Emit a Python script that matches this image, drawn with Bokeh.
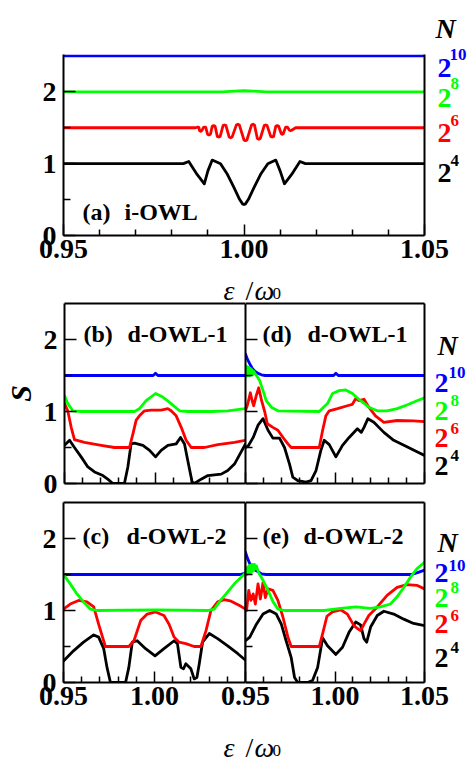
from bokeh.plotting import figure
from bokeh.models import Range1d, LinearAxis, FixedTicker, Label
from bokeh.layouts import column, row
from bokeh.embed import file_html
from bokeh.resources import INLINE

FONT = "Liberation Serif"
COLORS = {"n4": "#000000", "n6": "#ff0000", "n8": "#00ff00", "n10": "#0000ff"}
ORDER = ["n4", "n6", "n10", "n8"]
EXPONENTS = {"n4": "4", "n6": "6", "n8": "8", "n10": "10"}

X_MAJOR = [0.95, 1.00, 1.05]
X_MINOR = [0.96, 0.97, 0.98, 0.99, 1.01, 1.02, 1.03, 1.04]
S_MAJOR = [0, 1, 2]
S_MINOR = [0.5, 1.5]

# ---------------- (a) i-OWL  (curves stacked by 0.5) ----------------
a_n4_x = [0.9500, 0.9832, 0.9847, 0.9870, 0.9890, 0.9900, 0.9912, 0.9935, 0.9953, 0.9972, 0.9988, 0.9996,
          1.0000, 1.0004, 1.0012, 1.0028, 1.0047, 1.0066, 1.0088, 1.0100, 1.0112, 1.0132, 1.0155, 1.0170,
          1.0500]
a_n4_s = [1.00, 1.00, 1.03, 0.85, 0.72, 0.90, 1.05, 1.00, 0.86, 0.67, 0.50, 0.44,
          0.43, 0.44, 0.50, 0.67, 0.86, 1.00, 1.05, 0.90, 0.72, 0.85, 1.03, 1.00,
          1.00]
a_n6_x = [0.9500, 0.9864, 0.9869, 0.9872, 0.9875, 0.9877, 0.9880, 0.9883, 0.9888, 0.9891, 0.9894,
          0.9899, 0.9903, 0.9907, 0.9912, 0.9916, 0.9920, 0.9926, 0.9930, 0.9934, 0.9942, 0.9946, 0.9950,
          0.9959, 0.9963, 0.9967, 0.9979, 0.9983, 0.9987, 1.0000, 1.0004, 1.0008, 1.0021, 1.0025, 1.0029,
          1.0037, 1.0041, 1.0045, 1.0056, 1.0060, 1.0064, 1.0074, 1.0078, 1.0082, 1.0088, 1.0092, 1.0096,
          1.0103, 1.0106, 1.0109, 1.0115, 1.0118, 1.0121, 1.0126, 1.0129, 1.0132, 1.0143, 1.0500]
a_n6_s = [1.50, 1.50, 1.505, 1.51, 1.505, 1.46, 1.45, 1.46, 1.505, 1.51, 1.505,
          1.41, 1.40, 1.41, 1.52, 1.53, 1.52, 1.38, 1.37, 1.38, 1.53, 1.54, 1.53,
          1.37, 1.36, 1.37, 1.54, 1.55, 1.54, 1.33, 1.32, 1.33, 1.54, 1.55, 1.54,
          1.35, 1.34, 1.35, 1.53, 1.54, 1.53, 1.38, 1.37, 1.38, 1.52, 1.53, 1.52,
          1.42, 1.41, 1.42, 1.505, 1.51, 1.505, 1.465, 1.46, 1.465, 1.50, 1.50]
a_n8_x = [0.9500, 0.9940, 0.9975, 1.0000, 1.0025, 1.0060, 1.0500]
a_n8_s = [2.00, 2.00, 2.01, 2.015, 2.01, 2.00, 2.00]
a_n10_x = [0.9500, 1.0500]
a_n10_s = [2.50, 2.50]

# ---------------- (b) d-OWL-1 ----------------
b_n4_x = [0.9500, 0.9528, 0.9555, 0.9592, 0.9629, 0.9666, 0.9712, 0.9739, 0.9767, 0.9831, 0.9850, 0.9868,
          0.9887, 0.9933, 0.9970, 1.0003, 1.0034, 1.0071, 1.0117, 1.0141, 1.0163, 1.0181, 1.0205, 1.0218,
          1.0255, 1.0292, 1.0366, 1.0402, 1.0439, 1.0476, 1.0500]
b_n4_s = [0.53, 0.60, 0.50, 0.37, 0.23, 0.16, 0.11, 0.06, 0.00, 0.00, 0.23, 0.55,
          0.56, 0.53, 0.46, 0.37, 0.46, 0.53, 0.55, 0.64, 0.55, 0.32, 0.02, 0.00,
          0.06, 0.11, 0.13, 0.18, 0.27, 0.44, 0.55]
b_n6_x = [0.9500, 0.9518, 0.9537, 0.9555, 0.9610, 0.9703, 0.9776, 0.9859, 0.9878, 0.9896, 0.9914, 0.9942,
          0.9979, 1.0034, 1.0071, 1.0089, 1.0117, 1.0145, 1.0172, 1.0200, 1.0273, 1.0347, 1.0439, 1.0500]
b_n6_s = [1.11, 1.01, 0.78, 0.61, 0.57, 0.53, 0.50, 0.50, 0.69, 0.88, 0.94, 1.01,
          1.02, 1.02, 1.04, 1.01, 0.94, 0.78, 0.60, 0.50, 0.50, 0.54, 0.57, 0.60]
b_n8_x = [0.9500, 0.9518, 0.9546, 0.9592, 0.9887, 0.9914, 0.9951, 1.0003, 1.0043, 1.0089, 1.0135, 1.0181,
          1.0310, 1.0402, 1.0500]
b_n8_s = [1.22, 1.11, 1.01, 1.00, 1.00, 1.04, 1.15, 1.25, 1.20, 1.11, 1.01, 1.00,
          1.00, 1.01, 1.04]
b_n10_x = [0.9500, 0.9990, 1.0003, 1.0016, 1.0500]
b_n10_s = [1.50, 1.50, 1.53, 1.50, 1.50]

# ---------------- (d) d-OWL-1 ----------------
d_n4_x = [0.9500, 0.9515, 0.9543, 0.9570, 0.9598, 0.9626, 0.9653, 0.9690, 0.9718, 0.9746, 0.9764, 0.9792,
          0.9838, 0.9866, 0.9894, 0.9921, 0.9940, 0.9968, 1.0005, 1.0042, 1.0079, 1.0125, 1.0147, 1.0162,
          1.0184, 1.0217, 1.0273, 1.0328, 1.0402, 1.0458, 1.0500]
d_n4_s = [0.50, 0.52, 0.64, 0.81, 0.90, 0.74, 0.63, 0.63, 0.50, 0.27, 0.09, 0.04,
          0.02, 0.04, 0.18, 0.46, 0.60, 0.54, 0.37, 0.53, 0.64, 0.76, 0.71, 0.78,
          0.90, 0.85, 0.71, 0.60, 0.51, 0.44, 0.39]
d_n6_x = [0.9500, 0.9512, 0.9527, 0.9537, 0.9546, 0.9560, 0.9574, 0.9590, 0.9607, 0.9622, 0.9653, 0.9681,
          0.9709, 0.9737, 0.9755, 0.9912, 0.9931, 0.9949, 0.9968, 1.0014, 1.0069, 1.0097, 1.0116, 1.0134,
          1.0162, 1.0189, 1.0226, 1.0273, 1.0347, 1.0439, 1.0500]
d_n6_s = [1.01, 1.10, 1.26, 1.15, 1.08, 1.22, 1.33, 1.15, 1.00, 0.83, 0.78, 0.74,
          0.64, 0.55, 0.50, 0.50, 0.74, 0.94, 1.01, 1.04, 1.08, 1.10, 1.18, 1.15,
          1.17, 1.06, 0.94, 0.85, 0.875, 0.87, 0.86]
d_n8_x = [0.9500, 0.9503, 0.9507, 0.9511, 0.9515, 0.9519, 0.9523, 0.9527, 0.9531, 0.9535, 0.9540, 0.9545,
          0.9552, 0.9561, 0.9579, 0.9598, 0.9616, 0.9644, 0.9681, 0.9912, 0.9958, 0.9986, 1.0023, 1.0060,
          1.0097, 1.0143, 1.0189, 1.0236, 1.0291, 1.0347, 1.0402, 1.0458, 1.0500]
d_n8_s = [1.50, 1.63, 1.49, 1.62, 1.50, 1.61, 1.50, 1.60, 1.51, 1.58, 1.51, 1.56,
          1.53, 1.50, 1.43, 1.29, 1.15, 1.06, 1.01, 1.00, 1.11, 1.25, 1.29, 1.30,
          1.25, 1.15, 1.06, 1.01, 1.01, 1.04, 1.09, 1.15, 1.19]
d_n10_x = [0.9500, 0.9512, 0.9524, 0.9538, 0.9552, 0.9570, 0.9589, 0.9610, 0.9992, 1.0005, 1.0018, 1.0500]
d_n10_s = [1.80, 1.72, 1.66, 1.60, 1.56, 1.53, 1.51, 1.50, 1.50, 1.53, 1.50, 1.50]

# ---------------- (c) d-OWL-2 ----------------
c_n4_x = [0.9500, 0.9555, 0.9610, 0.9666, 0.9693, 0.9721, 0.9739, 0.9758, 0.9841, 0.9859, 0.9878, 0.9905,
          0.9951, 1.0003, 1.0052, 1.0108, 1.0126, 1.0145, 1.0159, 1.0172, 1.0200, 1.0218, 1.0233, 1.0246,
          1.0264, 1.0301, 1.0347, 1.0402, 1.0458, 1.0500]
c_n4_s = [0.30, 0.44, 0.56, 0.66, 0.63, 0.47, 0.21, 0.00, 0.00, 0.21, 0.56, 0.58,
          0.47, 0.37, 0.47, 0.58, 0.54, 0.21, 0.19, 0.26, 0.19, 0.05, 0.07, 0.26,
          0.56, 0.68, 0.61, 0.51, 0.40, 0.31]
c_n6_x = [0.9500, 0.9537, 0.9583, 0.9629, 0.9666, 0.9693, 0.9730, 0.9859, 0.9887, 0.9924, 0.9960, 1.0006,
          1.0052, 1.0080, 1.0108, 1.0135, 1.0172, 1.0218, 1.0255, 1.0283, 1.0310, 1.0347, 1.0384, 1.0421,
          1.0467, 1.0500]
c_n6_s = [1.02, 1.09, 1.14, 1.12, 1.05, 0.81, 0.50, 0.50, 0.58, 0.86, 0.95, 0.98,
          0.93, 0.81, 0.63, 0.56, 0.54, 0.50, 0.50, 0.72, 1.00, 1.12, 1.15, 1.13,
          1.07, 1.02]
c_n8_x = [0.9500, 0.9537, 0.9574, 0.9610, 0.9647, 0.9684, 1.0006, 1.0292, 1.0329, 1.0356, 1.0393, 1.0439, 1.0500]
c_n8_s = [1.50, 1.37, 1.23, 1.12, 1.02, 1.00, 1.01, 1.00, 1.02, 1.12, 1.23, 1.37, 1.52]
c_n10_x = [0.9500, 1.0470, 1.0500]
c_n10_s = [1.50, 1.50, 1.52]

# ---------------- (e) d-OWL-2 ----------------
e_n4_x = [0.9500, 0.9524, 0.9561, 0.9598, 0.9635, 0.9672, 0.9700, 0.9727, 0.9755, 0.9774, 0.9792, 0.9848,
          0.9875, 0.9903, 0.9931, 0.9958, 1.0005, 1.0042, 1.0079, 1.0116, 1.0143, 1.0162, 1.0177, 1.0199,
          1.0236, 1.0273, 1.0328, 1.0384, 1.0439, 1.0500]
e_n4_s = [0.58, 0.63, 0.81, 0.95, 1.00, 0.95, 0.81, 0.58, 0.35, 0.07, 0.00, 0.00,
          0.03, 0.21, 0.62, 0.51, 0.39, 0.49, 0.70, 0.84, 0.80, 0.61, 0.56, 0.77,
          0.93, 0.99, 0.95, 0.88, 0.82, 0.79]
e_n6_x = [0.9500, 0.9506, 0.9518, 0.9530, 0.9543, 0.9555, 0.9570, 0.9583, 0.9598, 0.9611, 0.9626, 0.9653,
          0.9681, 0.9709, 0.9737, 0.9755, 0.9912, 0.9931, 0.9955, 0.9986, 1.0032, 1.0069, 1.0106, 1.0125,
          1.0143, 1.0162, 1.0189, 1.0236, 1.0291, 1.0347, 1.0402, 1.0457, 1.0500]
e_n6_s = [1.05, 1.00, 1.28, 1.14, 1.23, 1.09, 1.37, 1.16, 1.39, 1.18, 1.30, 1.28,
          1.14, 0.91, 0.63, 0.50, 0.50, 0.68, 0.92, 0.98, 1.01, 0.95, 0.79, 0.75,
          0.72, 0.81, 0.93, 1.05, 1.21, 1.32, 1.36, 1.35, 1.30]
e_n8_x = [0.9500, 0.9503, 0.9507, 0.9511, 0.9515, 0.9519, 0.9524, 0.9528, 0.9533, 0.9538, 0.9544, 0.9550,
          0.9555, 0.9561, 0.9572, 0.9598, 0.9626, 0.9654, 0.9681, 0.9718, 0.9940, 1.0032, 1.0116, 1.0199,
          1.0254, 1.0310, 1.0347, 1.0384, 1.0421, 1.0457, 1.0500]
e_n8_s = [1.50, 1.58, 1.50, 1.60, 1.51, 1.62, 1.52, 1.63, 1.53, 1.64, 1.55, 1.64,
          1.58, 1.62, 1.53, 1.42, 1.28, 1.12, 1.02, 1.00, 1.00, 1.03, 1.05, 1.03,
          1.05, 1.09, 1.19, 1.32, 1.46, 1.58, 1.67]
e_n10_x = [0.9500, 0.9512, 0.9524, 0.9542, 0.9561, 0.9589, 0.9615, 1.0430, 1.0465, 1.0500]
e_n10_s = [1.81, 1.72, 1.65, 1.59, 1.55, 1.51, 1.50, 1.50, 1.53, 1.56]

X_LABELS = {0.95: "0.95", 1.0: "1.00", 1.05: "1.05"}
S_LABELS = {0: "0", 1: "1", 2: "2"}


def panel(width, height, left, right, top, bottom, s_top=2.5):
    p = figure(width=width, height=height,
               x_range=Range1d(0.95, 1.05), y_range=Range1d(0, s_top),
               x_axis_type=None, y_axis_type=None,
               output_backend="svg", toolbar_location=None,
               min_border_left=left, min_border_right=right,
               min_border_top=top, min_border_bottom=bottom)
    p.outline_line_color = None
    p.background_fill_color = "white"
    p.border_fill_color = "white"
    return p


def text_box(width, height, top=0, bottom=0, clear=False):
    # a drawing area for texts that sit outside the plot frames
    p = figure(width=width, height=height, x_range=Range1d(0, width),
               y_range=Range1d(0, height - top - bottom),
               x_axis_type=None, y_axis_type=None, output_backend="svg", toolbar_location=None,
               min_border_left=0, min_border_right=0, min_border_top=top, min_border_bottom=bottom)
    p.outline_line_color = None
    if clear:
        p.background_fill_color = None
        p.border_fill_color = None
    else:
        p.background_fill_color = "white"
        p.border_fill_color = "white"
    return p


def add_axis(p, side, ticks=True, labels=None, major=None):
    horiz = side in ("below", "above")
    if major is None:
        major = X_MAJOR if horiz else S_MAJOR
    ticker = FixedTicker(ticks=major, minor_ticks=X_MINOR if horiz else S_MINOR)
    ax = LinearAxis(ticker=ticker)
    ax.axis_line_width = 2
    ax.axis_line_color = "black"
    ax.major_tick_out = 0
    ax.minor_tick_out = 0
    if ticks:
        ax.major_tick_in = 11 if horiz else 12
        ax.minor_tick_in = 6 if horiz else 7
        ax.major_tick_line_width = 1.5
        ax.minor_tick_line_width = 1.5
        ax.major_tick_line_color = "black"
        ax.minor_tick_line_color = "black"
    else:
        ax.major_tick_in = 0
        ax.minor_tick_in = 0
        ax.major_tick_line_color = None
        ax.minor_tick_line_color = None
    if labels:
        overrides = {}
        for k, v in labels.items():
            overrides[k] = v
            overrides[repr(k)] = v
        ax.major_label_overrides = overrides
        ax.major_label_text_font = FONT
        ax.major_label_text_font_style = "bold"
        ax.major_label_text_font_size = "28px"
        ax.major_label_text_color = "black"
        ax.major_label_standoff = 4 if horiz else 7
    else:
        ax.major_label_text_color = None
        ax.major_label_text_font_size = "0px"
        ax.major_label_standoff = 0
    p.add_layout(ax, side)
    return ax


def draw(p, series):
    for key in ORDER:
        xs, ss = series[key]
        p.line(xs, ss, line_color=COLORS[key], line_width=2.8,
               line_join="round", line_cap="round")


def text(p, x, y, dx, dy, s, size, style="bold", color="black", align="left"):
    p.add_layout(Label(x=x, y=y, x_offset=dx, y_offset=dy, text=s,
                       text_font=FONT, text_font_style=style, text_font_size=size,
                       text_color=color, text_align=align, text_baseline="alphabetic"))


def panel_title(p, tag, name, dx_tag, dx_name, dy):
    text(p, 0.95, 0, dx_tag, dy, tag, "24px")
    text(p, 0.95, 0, dx_name, dy, name, "24px")


def size_key(height, top, bottom, place):
    # "N" header and the 2^k entries; laid over the right border of a row
    k = text_box(45, height, top=top, bottom=bottom, clear=True)
    k.styles = {"margin-left": "-45px"}
    nx, ny = place["N"]
    text(k, nx, ny, 0, 0, "N", "28px", style="bold italic")
    for key in ["n10", "n8", "n6", "n4"]:
        bx, by, ex, ey = place[key]
        text(k, bx, by, 0, 0, "2", "28px", color=COLORS[key])
        text(k, ex, ey, 0, 0, EXPONENTS[key], "17px", color=COLORS[key])
    return k


def x_title(height, baseline, lift):
    # shared x-axis title, pulled up over the tick-label border above it
    t = text_box(469, height, clear=True)
    t.styles = {"margin-top": "-%dpx" % lift}
    text(t, 244, baseline, -21, 0, "\u03b5", "28px", style="italic")
    text(t, 244, baseline, 1, 0, "/", "28px", style="normal")
    text(t, 244, baseline, 10, 0, "\u03c9", "28px", style="italic")
    text(t, 244, baseline, 28, -3, "0", "17px", style="normal")
    return t


# ---- panel (a) ----
spacer_a = text_box(469, 52)
fa = panel(469, 219, 63, 45, 2, 36, s_top=2.52)
draw(fa, {"n4": (a_n4_x, a_n4_s), "n6": (a_n6_x, a_n6_s),
          "n8": (a_n8_x, a_n8_s), "n10": (a_n10_x, a_n10_s)})
add_axis(fa, "left", labels=S_LABELS)
add_axis(fa, "right", ticks=False)
add_axis(fa, "below", labels=X_LABELS)
panel_title(fa, "(a)", "i-OWL", 19, 61, 24)
key_a = size_key(271, 0, 36, {"N": (11, 207), "n10": (13, 168, 25, 181), "n8": (13, 138, 26, 152),
                              "n6": (13, 103, 26, 115), "n4": (13, 63, 26, 75)})
title_a = x_title(45, 10, 16)

# ---- panel (b) ----
fb = panel(245, 195, 63, 0, 3, 12)
draw(fb, {"n4": (b_n4_x, b_n4_s), "n6": (b_n6_x, b_n6_s),
          "n8": (b_n8_x, b_n8_s), "n10": (b_n10_x, b_n10_s)})
yax_b = add_axis(fb, "left", labels=S_LABELS)
yax_b.axis_label = "S"
yax_b.axis_label_text_font = FONT
yax_b.axis_label_text_font_style = "bold italic"
yax_b.axis_label_text_font_size = "30px"
yax_b.axis_label_text_color = "black"
yax_b.axis_label_standoff = 4
add_axis(fb, "right", ticks=False)
add_axis(fb, "above", ticks=False)
add_axis(fb, "below")
panel_title(fb, "(b)", "d-OWL-1", 19, 63, 150)

# ---- panel (d) ----
fd = panel(224, 195, 0, 45, 3, 12)
draw(fd, {"n4": (d_n4_x, d_n4_s), "n6": (d_n6_x, d_n6_s),
          "n8": (d_n8_x, d_n8_s), "n10": (d_n10_x, d_n10_s)})
add_axis(fd, "left")
add_axis(fd, "right", ticks=False)
add_axis(fd, "above", ticks=False)
add_axis(fd, "below")
panel_title(fd, "(d)", "d-OWL-1", 17, 62, 150)
key_d = size_key(195, 3, 12, {"N": (13, 138), "n10": (10, 101, 24, 111), "n8": (10, 73, 26, 83),
                              "n6": (10, 46, 26, 55), "n4": (10, 18, 26, 28)})

# ---- panel (c) ----
fc = panel(245, 230, 63, 0, 7, 43)
draw(fc, {"n4": (c_n4_x, c_n4_s), "n6": (c_n6_x, c_n6_s),
          "n8": (c_n8_x, c_n8_s), "n10": (c_n10_x, c_n10_s)})
add_axis(fc, "left", labels=S_LABELS)
add_axis(fc, "right", ticks=False)
add_axis(fc, "above", ticks=False)
add_axis(fc, "below", labels={0.95: "0.95", 1.0: "1.00"}, major=[0.95, 1.00])
panel_title(fc, "(c)", "d-OWL-2", 19, 63, 147)

# ---- panel (e): its canvas reaches 40 px back over (c) so the shared 0.95 label fits ----
fe = panel(264, 230, 40, 45, 7, 43)
fe.border_fill_color = None
fe.styles = {"margin-left": "-40px"}
draw(fe, {"n4": (e_n4_x, e_n4_s), "n6": (e_n6_x, e_n6_s),
          "n8": (e_n8_x, e_n8_s), "n10": (e_n10_x, e_n10_s)})
add_axis(fe, "left")
add_axis(fe, "right", ticks=False)
add_axis(fe, "above", ticks=False)
add_axis(fe, "below", labels=X_LABELS)
panel_title(fe, "(e)", "d-OWL-2", 17, 58, 147)
key_e = size_key(230, 7, 43, {"N": (13, 140), "n10": (10, 110, 24, 117), "n8": (10, 85, 26, 95),
                              "n6": (10, 59, 26, 67), "n4": (10, 25, 26, 35)})

title_e = x_title(46, 10, 14)

layout = column(row(column(spacer_a, fa), key_a), title_a,
                row(fb, fd, key_d), row(fc, fe, key_e), title_e)

with open("out.html", "w") as f:
    f.write(file_html(layout, INLINE))
